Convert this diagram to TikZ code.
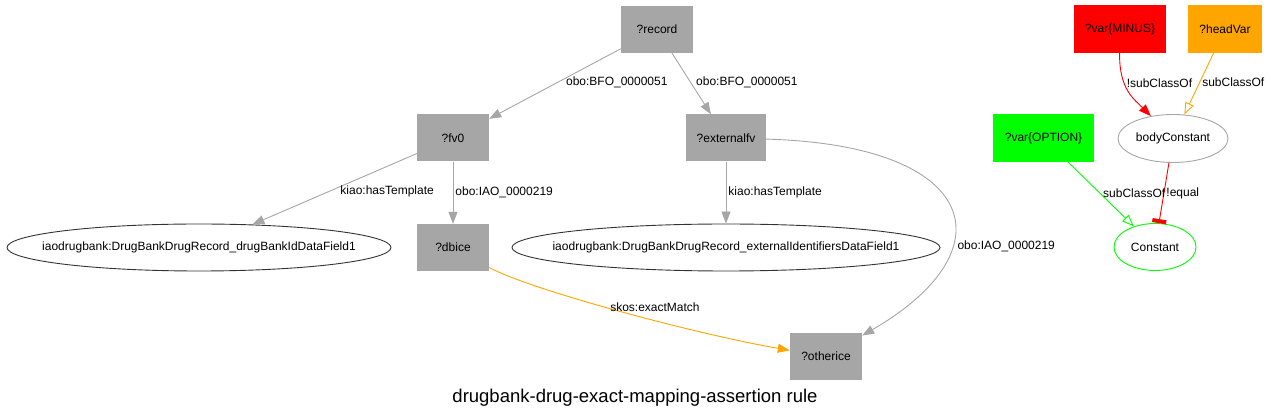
\documentclass[tikz,border=0pt]{standalone}
\usepackage{fontspec}
\setmainfont{Liberation Sans}
\usetikzlibrary{shapes.geometric, arrows.meta, positioning}
\definecolor{boxgray}{HTML}{A6A6A6}
\definecolor{edgegray}{HTML}{A6A6A6}
\definecolor{ovalline}{HTML}{333333}
\definecolor{minusred}{HTML}{FF0000}
\definecolor{headorange}{HTML}{FFA500}
\definecolor{optgreen}{HTML}{00FF00}
\newcommand{\ovaltext}[1]{\makebox[0pt]{#1}}

\begin{document}
\begin{tikzpicture}[
  x=1pt, y=-1pt,
  box/.style={rectangle, fill=boxgray, minimum width=72pt, minimum height=47pt,
              inner sep=0pt, align=center, font=\fontsize{12}{14}\selectfont},
  oval/.style={ellipse, draw=ovalline, line width=0.9pt, minimum height=47pt, inner sep=0pt,
              font=\fontsize{12}{14}\selectfont},
  lbl/.style={font=\fontsize{12}{14}\selectfont, inner sep=2pt},
  arrow/.style={-{Triangle[length=12pt,width=9pt]}, draw=edgegray, line width=0.9pt},
  openarrow/.style={-{Triangle[open,length=12pt,width=9pt]}, line width=0.9pt},
  teearrow/.style={-{Rectangle[length=4pt,width=14pt]}, line width=0.9pt}
]
\useasboundingbox (0,0) rectangle (1270,419);

% Record
\node[box] (record) at (657,29.5) {?record};

% Field values
\node[box] (fv0) at (453,138) {?fv0};
\node[box, minimum width=80pt] (externalfv) at (726,138) {?externalfv};

% Templates
\node[oval, minimum width=384pt] (drugbankid) at (199,247.5) {\ovaltext{iaodrugbank:DrugBankDrugRecord\_drugBankIdDataField1}};
\node[oval, minimum width=428pt] (externalid) at (726,247.5) {\ovaltext{iaodrugbank:DrugBankDrugRecord\_externalIdentifiersDataField1}};

% ICEs
\node[box] (dbice) at (453,247.5) {?dbice};
\node[box] (otherice) at (826,356.5) {?otherice};

% Legend
\node[box, fill=minusred, minimum width=92pt, minimum height=48pt] (varminus) at (1120,29) {?var\{MINUS\}};
\node[box, fill=headorange, minimum width=74pt, minimum height=48pt] (headvar) at (1225,29) {?headVar};
\node[oval, draw=edgegray, minimum width=110pt, minimum height=48pt] (bodyconst) at (1173,138.5) {\ovaltext{bodyConstant}};
\node[box, fill=optgreen, minimum width=101pt, minimum height=48pt] (varoption) at (1043.5,138) {?var\{OPTION\}};
\node[oval, draw=optgreen, minimum width=82pt] (constant) at (1155,247) {\ovaltext{Constant}};

% Title
\node[font=\fontsize{18.5}{22}\selectfont] (title) at (635,397.5) {drugbank-drug-exact-mapping-assertion rule};

% Edges
\draw[arrow] (record) -- node[lbl, pos=0.48, right, xshift=6pt] {obo:BFO\_0000051} (fv0);
\draw[arrow] (record) -- node[lbl, pos=0.48, right, xshift=3pt] {obo:BFO\_0000051} (externalfv);
\draw[arrow] (fv0) -- node[lbl, pos=0.54, right, xshift=10pt] {kiao:hasTemplate} (drugbankid);
\draw[arrow] (fv0) -- node[lbl, pos=0.5, right] {obo:IAO\_0000219} (dbice);
\draw[arrow] (externalfv) -- node[lbl, pos=0.5, right] {kiao:hasTemplate} (externalid);
\draw[arrow] (externalfv) .. controls (980,145) and (1010,250) .. node[lbl, pos=0.66, right, xshift=4pt] {obo:IAO\_0000219} (otherice);
\draw[arrow, draw=headorange, -{Triangle[length=12pt,width=9pt,fill=headorange]}] (dbice) .. controls (530,290) and (700,335) .. node[lbl, pos=0.55, above, xshift=16pt, yshift=2pt] {skos:exactMatch} (otherice);

\draw[arrow, draw=minusred] (varminus) .. controls (1119,90) and (1135,100) .. node[lbl, pos=0.35, right] {!subClassOf} (bodyconst);
\draw[openarrow, draw=headorange] (headvar) -- node[lbl, pos=0.47, right] {subClassOf} (bodyconst);
\draw[teearrow, draw=minusred] (bodyconst) -- node[lbl, pos=0.5, right] {!equal} (constant);
\draw[openarrow, draw=optgreen] (varoption) -- node[lbl, pos=0.48, right, xshift=1pt] {subClassOf} (constant);
\end{tikzpicture}
\end{document}
